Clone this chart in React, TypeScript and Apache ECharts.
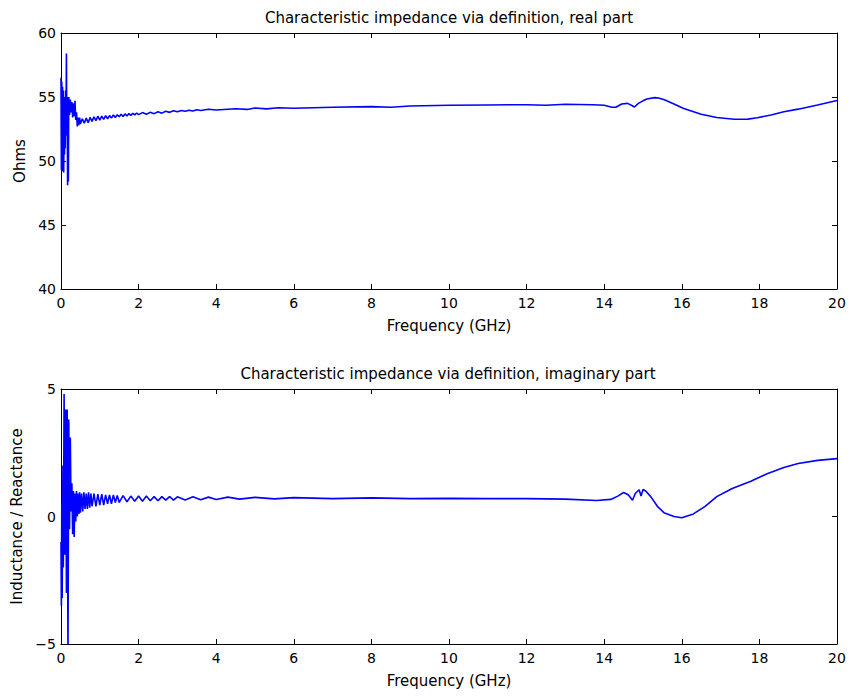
import React, { useEffect, useRef } from "react";
import * as echarts from "echarts";

// Real part of characteristic impedance: [frequency GHz, ohms]
const realPart: [number, number][] = [
  [0, 56.5], [0.01, 49.3], [0.02, 56.2], [0.03, 49.2], [0.04, 55.8], [0.05, 49.5],
  [0.06, 55.5], [0.07, 49.1], [0.08, 55.0], [0.09, 50.5], [0.1, 54.8], [0.11, 51.0],
  [0.12, 55.5], [0.13, 53.0], [0.14, 58.4], [0.15, 52.0], [0.16, 55.0], [0.17, 48.1],
  [0.18, 54.5], [0.19, 48.4], [0.2, 55.0], [0.22, 53.6], [0.24, 54.8], [0.26, 53.8],
  [0.28, 54.6], [0.3, 53.4], [0.32, 54.5], [0.34, 53.5], [0.36, 54.7], [0.38, 53.2],
  [0.4, 53.8], [0.42, 52.7], [0.44, 53.4], [0.46, 52.8], [0.48, 53.4], [0.5, 52.9],
  [0.55, 53.3], [0.6, 52.95], [0.65, 53.35], [0.7, 53.0], [0.75, 53.4], [0.8, 53.1],
  [0.85, 53.45], [0.9, 53.15], [0.95, 53.5], [1.0, 53.2], [1.05, 53.5], [1.1, 53.25],
  [1.15, 53.55], [1.2, 53.3], [1.25, 53.55], [1.3, 53.35], [1.35, 53.6], [1.4, 53.4],
  [1.45, 53.62], [1.5, 53.45], [1.55, 53.65], [1.6, 53.48], [1.65, 53.68], [1.7, 53.52],
  [1.75, 53.7], [1.8, 53.56], [1.85, 53.72], [1.9, 53.6], [1.95, 53.75], [2.0, 53.62],
  [2.1, 53.78], [2.2, 53.66], [2.3, 53.8], [2.4, 53.7], [2.5, 53.85], [2.6, 53.74],
  [2.7, 53.88], [2.8, 53.8], [2.9, 53.92], [3.0, 53.84], [3.1, 53.95], [3.2, 53.88],
  [3.3, 53.97], [3.4, 53.9], [3.5, 54.0], [3.6, 53.94], [3.8, 54.04], [4.0, 53.98],
  [4.5, 54.08], [4.8, 54.03], [5.0, 54.14], [5.3, 54.07], [5.6, 54.16], [6.0, 54.12],
  [7.0, 54.2], [8.0, 54.25], [8.5, 54.2], [9.0, 54.3], [10.0, 54.35], [11.0, 54.38],
  [12.0, 54.4], [12.5, 54.36], [13.0, 54.43], [13.7, 54.4], [14.0, 54.35], [14.2, 54.2],
  [14.3, 54.2], [14.45, 54.45], [14.6, 54.5], [14.7, 54.35], [14.78, 54.22], [14.88, 54.5],
  [15.0, 54.7], [15.1, 54.85], [15.3, 54.95], [15.4, 54.92], [15.55, 54.78], [15.8, 54.45],
  [16.05, 54.1], [16.5, 53.65], [16.9, 53.4], [17.35, 53.26], [17.7, 53.27], [17.95, 53.38],
  [18.3, 53.6], [18.63, 53.85], [19.0, 54.05], [19.5, 54.37], [20.0, 54.72],
];

// Imaginary part: [frequency GHz, inductance / reactance]
const imagPart: [number, number][] = [
  [0, -1.0], [0.01, -3.5], [0.02, 0.5], [0.03, -3.2], [0.05, 2.0], [0.06, -2.0],
  [0.08, 4.8], [0.1, -1.5], [0.12, 4.2], [0.14, -3.0], [0.16, 4.2], [0.18, -5.6],
  [0.2, 3.8], [0.22, -0.5], [0.24, 3.1], [0.26, 0.2], [0.28, 1.3], [0.3, -0.7],
  [0.32, 1.0], [0.34, -0.8], [0.36, 0.9], [0.38, -0.2], [0.4, 1.0], [0.42, 0.0],
  [0.44, 0.9], [0.46, 0.1], [0.48, 0.95], [0.5, 0.15], [0.53, 0.9], [0.56, 0.2],
  [0.59, 0.95], [0.62, 0.3], [0.65, 0.9], [0.68, 0.3], [0.71, 0.95], [0.74, 0.35],
  [0.77, 0.9], [0.8, 0.4], [0.85, 0.9], [0.9, 0.4], [0.95, 0.88], [1.0, 0.45],
  [1.05, 0.88], [1.1, 0.45], [1.15, 0.85], [1.2, 0.5], [1.25, 0.85], [1.3, 0.5],
  [1.35, 0.85], [1.4, 0.55], [1.45, 0.82], [1.5, 0.55], [1.6, 0.82], [1.7, 0.58],
  [1.8, 0.8], [1.9, 0.6], [2.0, 0.8], [2.1, 0.6], [2.2, 0.8], [2.3, 0.62],
  [2.4, 0.78], [2.5, 0.62], [2.6, 0.78], [2.7, 0.64], [2.8, 0.78], [2.9, 0.64],
  [3.0, 0.77], [3.2, 0.65], [3.4, 0.77], [3.6, 0.66], [3.8, 0.76], [4.0, 0.67],
  [4.3, 0.76], [4.6, 0.68], [5.0, 0.75], [5.5, 0.69], [6.0, 0.74], [7.0, 0.7],
  [8.0, 0.73], [9.0, 0.7], [10.0, 0.71], [11.0, 0.7], [12.0, 0.7], [13.0, 0.68],
  [13.8, 0.63], [14.17, 0.67], [14.35, 0.8], [14.5, 0.94], [14.62, 0.85], [14.73, 0.64],
  [14.8, 0.9], [14.9, 1.05], [14.95, 0.8], [15.0, 1.06], [15.07, 1.0], [15.2, 0.78],
  [15.37, 0.4], [15.54, 0.15], [15.8, 0.0], [16.0, -0.05], [16.3, 0.1], [16.6, 0.4],
  [16.9, 0.78], [17.3, 1.1], [17.78, 1.38], [18.2, 1.68], [18.63, 1.92], [19.0, 2.08],
  [19.5, 2.2], [20.0, 2.27],
];

const freqTicks = { min: 0, max: 20, interval: 2 };
const realTicks = { min: 40, max: 60, interval: 5 };
const imagTicks = { min: -5, max: 5, interval: 5 };

const titles = [
  "Characteristic impedance via definition, real part",
  "Characteristic impedance via definition, imaginary part",
];
const xName = "Frequency (GHz)";
const yNames = ["Ohms", "Inductance / Reactance"];

const FONT = "DejaVu Sans";

export default function App() {
  const ref = useRef<HTMLDivElement>(null);
  useEffect(() => {
    if (!ref.current) return;
    const chart = echarts.init(ref.current, undefined, { renderer: "svg" });
    const line = { onZero: false, lineStyle: { color: "#000", width: 1 } };
    const tick = { inside: true, length: 5, lineStyle: { color: "#000" } };
    const label = {
      color: "#000",
      fontSize: 14,
      fontFamily: FONT,
      formatter: (v: number) => String(v).replace("-", "\u2212"),
    };
    const nameStyle = { color: "#000", fontSize: 15, fontFamily: FONT };
    const mkX = (grid: number, main: boolean) => ({
      type: "value",
      gridIndex: grid,
      position: main ? "bottom" : "top",
      ...freqTicks,
      axisLine: { show: true, ...line },
      axisTick: { show: true, ...tick },
      splitLine: { show: false },
      axisLabel: main ? { ...label, margin: 7 } : { show: false },
      name: main ? xName : "",
      nameLocation: "middle",
      nameGap: 29,
      nameTextStyle: nameStyle,
    });
    const mkY = (grid: number, main: boolean, ticks: any, name: string) => ({
      type: "value",
      gridIndex: grid,
      position: main ? "left" : "right",
      ...ticks,
      axisLine: { show: true, ...line },
      axisTick: { show: true, ...tick },
      splitLine: { show: false },
      axisLabel: main ? { ...label, margin: 5 } : { show: false },
      name: main ? name : "",
      nameLocation: "middle",
      nameGap: 34,
      nameTextStyle: nameStyle,
    });
    const titleStyle = { color: "#000", fontSize: 15, fontWeight: "normal", fontFamily: FONT };
    chart.setOption({
      animation: false,
      backgroundColor: "#fff",
      title: [
        { text: titles[0], left: 444, top: 5, textAlign: "center", textStyle: titleStyle },
        { text: titles[1], left: 443, top: 361, textAlign: "center", textStyle: titleStyle },
      ],
      grid: [
        { left: 61, top: 33, width: 776, height: 256 },
        { left: 61, top: 389, width: 776, height: 255 },
      ],
      xAxis: [mkX(0, true), mkX(0, false), mkX(1, true), mkX(1, false)],
      yAxis: [
        mkY(0, true, realTicks, yNames[0]),
        mkY(0, false, realTicks, ""),
        mkY(1, true, imagTicks, yNames[1]),
        mkY(1, false, imagTicks, ""),
      ],
      series: [
        {
          type: "line", xAxisIndex: 0, yAxisIndex: 0, data: realPart,
          showSymbol: false, symbol: "none", clip: true,
          lineStyle: { color: "#0000ff", width: 1.6 },
        },
        {
          type: "line", xAxisIndex: 2, yAxisIndex: 2, data: imagPart,
          showSymbol: false, symbol: "none", clip: true,
          lineStyle: { color: "#0000ff", width: 1.6 },
        },
      ],
    });
    return () => chart.dispose();
  }, []);
  return (
    <div
      ref={ref}
      style={{ position: "fixed", left: 0, top: 0, width: 850, height: 696, background: "#fff" }}
    />
  );
}
